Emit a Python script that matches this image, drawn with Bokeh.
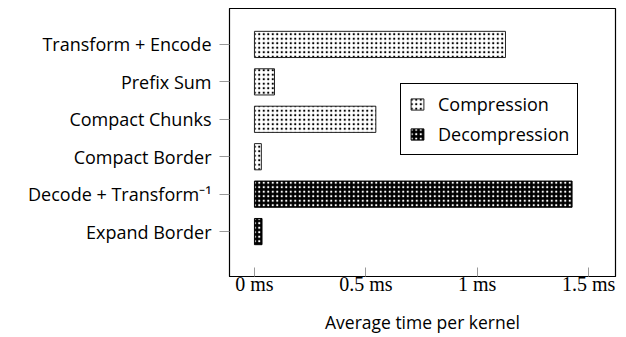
from bokeh.plotting import figure
from bokeh.models import FixedTicker, Range1d, ColumnDataSource, Legend, LegendItem
from bokeh.embed import file_html
from bokeh.resources import INLINE

categories = ["Transform + Encode", "Prefix Sum", "Compact Chunks", "Compact Border",
              "Decode + Transform\u207b\u00b9", "Expand Border"]
compression_cats = ["Transform + Encode", "Prefix Sum", "Compact Chunks", "Compact Border"]
compression_ms = [1.127, 0.09, 0.545, 0.031]
decompression_cats = ["Decode + Transform\u207b\u00b9", "Expand Border"]
decompression_ms = [1.426, 0.034]
x_ticks = [0, 0.5, 1, 1.5]
x_tick_labels = ["0 ms", "0.5 ms", "1 ms", "1.5 ms"]

n = len(categories)
ypos = {c: n - 1 - i for i, c in enumerate(categories)}

FONT_SANS = "Open Sans"
FONT_SERIF = "Liberation Serif"

p = figure(width=618, height=337, output_backend="svg", toolbar_location=None,
           x_range=Range1d(-0.112, 1.621), y_range=Range1d(-1.2, 5.96),
           min_border_left=229, min_border_right=3, min_border_top=8, min_border_bottom=61)
p.grid.visible = False
p.outline_line_color = "black"
p.outline_line_width = 1.2

src_c = ColumnDataSource(dict(y=[ypos[c] for c in compression_cats], right=compression_ms))
src_d = ColumnDataSource(dict(y=[ypos[c] for c in decompression_cats], right=decompression_ms))

rc = p.hbar(y="y", right="right", left=0, height=0.7, source=src_c,
            fill_color="white", line_color="#222222", line_width=1,
            hatch_pattern="dot", hatch_color="black", hatch_scale=4.5, hatch_weight=1.5)
rd = p.hbar(y="y", right="right", left=0, height=0.7, source=src_d,
            fill_color="black", line_color="black", line_width=1,
            hatch_pattern="dot", hatch_color="white", hatch_scale=4.5, hatch_weight=1.5)

# x axis
p.xaxis.ticker = FixedTicker(ticks=x_ticks)
p.xaxis.major_label_overrides = {t: l for t, l in zip(x_ticks, x_tick_labels)}
p.xaxis.major_tick_in = 9
p.xaxis.major_tick_out = 0
p.xaxis.minor_tick_line_color = None
p.xaxis.major_tick_line_color = "#999999"
p.xaxis.axis_line_color = "black"
p.xaxis.major_label_text_font = FONT_SERIF
p.xaxis.major_label_text_font_size = "20px"
p.xaxis.major_label_text_color = "black"
p.xaxis.major_label_standoff = -4
p.xaxis.axis_label = "Average time per kernel"
p.xaxis.axis_label_text_font = FONT_SANS
p.xaxis.axis_label_text_font_size = "17.5px"
p.xaxis.axis_label_text_font_style = "normal"
p.xaxis.axis_label_text_color = "black"
p.xaxis.axis_label_standoff = 12

# y axis
p.yaxis.ticker = FixedTicker(ticks=list(range(n)))
p.yaxis.major_label_overrides = {ypos[c]: c for c in categories}
p.yaxis.major_tick_in = 0
p.yaxis.major_tick_out = 10
p.yaxis.minor_tick_line_color = None
p.yaxis.major_tick_line_color = "#999999"
p.yaxis.axis_line_color = "black"
p.yaxis.major_label_text_font = FONT_SANS
p.yaxis.major_label_text_font_size = "18px"
p.yaxis.major_label_text_color = "black"
p.yaxis.major_label_standoff = 8

legend = Legend(items=[LegendItem(label="Compression", renderers=[rc]),
                       LegendItem(label="Decompression", renderers=[rd])],
                location=(171, 121))
legend.label_text_font = FONT_SANS
legend.label_text_font_size = "18px"
legend.label_text_color = "black"
legend.border_line_color = "black"
legend.border_line_alpha = 1
legend.border_line_width = 1
legend.glyph_width = 16
legend.glyph_height = 14
legend.label_standoff = 13
legend.spacing = 6
legend.padding = 8
legend.margin = 0
p.add_layout(legend)

open("out.html", "w").write(file_html(p, INLINE))
